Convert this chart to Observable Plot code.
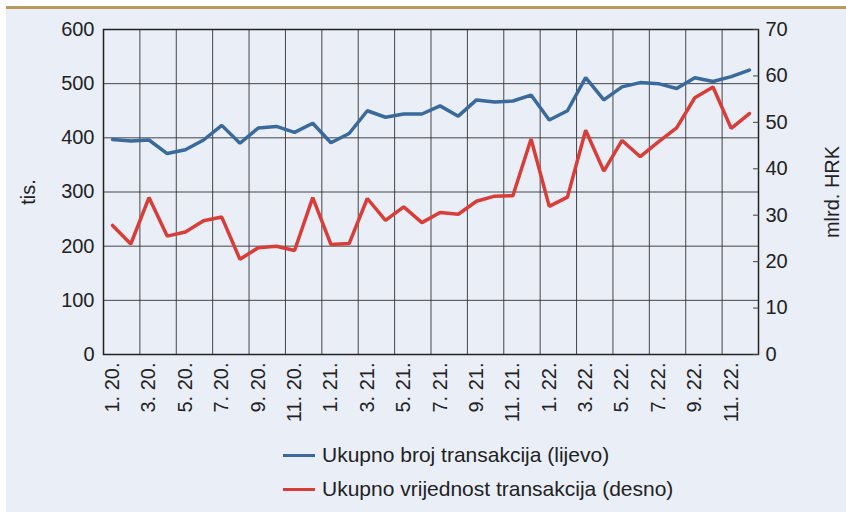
<!DOCTYPE html>
<html><head><meta charset="utf-8">
<script src="https://cdn.jsdelivr.net/npm/d3@7"></script>
<script src="https://cdn.jsdelivr.net/npm/@observablehq/plot@0.6"></script>
<style>
body{margin:0;background:#fff;font-family:"Liberation Sans",Arial,sans-serif;width:846px;height:512px;overflow:hidden;position:relative;}
#bg{position:absolute;left:6px;top:6px;width:840px;height:506px;background:#e9eef7;border-top:3px solid #b89a60;box-sizing:border-box;}
#chart{position:absolute;left:0;top:0;}
#legend{position:absolute;left:283px;top:438px;font-size:21px;color:#222;}
.row{display:flex;align-items:center;height:34px;}
.sw{width:32px;height:3px;margin-right:7px;}
</style></head><body>
<div id="bg"></div><div id="chart"></div>
<div id="legend"></div>
<script>
const months = ["1. 20.","2. 20.","3. 20.","4. 20.","5. 20.","6. 20.","7. 20.","8. 20.","9. 20.","10. 20.","11. 20.","12. 20.",
"1. 21.","2. 21.","3. 21.","4. 21.","5. 21.","6. 21.","7. 21.","8. 21.","9. 21.","10. 21.","11. 21.","12. 21.",
"1. 22.","2. 22.","3. 22.","4. 22.","5. 22.","6. 22.","7. 22.","8. 22.","9. 22.","10. 22.","11. 22.","12. 22."];
const countTis = [397, 394, 396, 371, 378, 396, 423, 390, 418, 421, 410, 427, 391, 408, 450, 438, 444, 444, 459, 440, 470, 466, 468, 479, 433, 450, 511, 470, 494, 502, 500, 491, 511, 504, 513, 525];
const valueMlrd = [27.8, 23.8, 33.8, 25.5, 26.4, 28.8, 29.6, 20.5, 23.0, 23.3, 22.4, 33.8, 23.7, 23.9, 33.6, 28.9, 31.8, 28.4, 30.6, 30.2, 33.0, 34.1, 34.2, 46.4, 31.9, 33.9, 48.3, 39.5, 46.1, 42.6, 45.8, 48.8, 55.3, 57.6, 48.7, 51.9];
const leftTicks = [0, 100, 200, 300, 400, 500, 600];
const rightTicks = [0, 10, 20, 30, 40, 50, 60, 70];
const seriesNames = ["Ukupno broj transakcija (lijevo)", "Ukupno vrijednost transakcija (desno)"];
const seriesColors = ["#3a6a9b", "#d93d38"];
const leftLabel = "tis.";
const rightLabel = "mlrd. HRK";

const k = 600 / 70;
const data = months.map((m, i) => ({i, m, count: countTis[i], value: valueMlrd[i]}));
const xLabelPos = months.map((m, i) => i).filter(i => i % 2 === 0).map(i => i + 0.5);
const gridPos = d3.range(0, months.length + 1, 2);

const chart = Plot.plot({
  width: 846,
  height: 440,
  marginTop: 29,
  marginBottom: 86,
  marginLeft: 103,
  marginRight: 88,
  style: {fontSize: "20px", fontFamily: "'Liberation Sans', Arial, sans-serif", color: "#222", background: "transparent", overflow: "visible"},
  x: {domain: [0, months.length]},
  y: {domain: [0, 600]},
  marks: [
    Plot.gridY(leftTicks, {stroke: "#333", strokeOpacity: 0.9, strokeWidth: 1}),
    Plot.gridX(gridPos, {stroke: "#333", strokeOpacity: 0.9, strokeWidth: 1}),
    Plot.frame({stroke: "#222", strokeWidth: 1.5}),
    Plot.axisY(leftTicks, {anchor: "left", tickSize: 0, tickPadding: 9, label: leftLabel, labelAnchor: "center", labelOffset: 83, labelArrow: "none"}),
    Plot.axisY(rightTicks.map(v => v * k), {anchor: "right", tickSize: 0, tickPadding: 7, tickFormat: d => Math.round(d / k), label: rightLabel, labelAnchor: "center", labelOffset: 80, labelArrow: "none"}),
    Plot.axisY(rightTicks.map(v => v * k), {anchor: "right", tickSize: 6, dx: -6, fill: "none", stroke: "#444", label: null}),
    Plot.axisX(xLabelPos, {anchor: "bottom", tickSize: 0, tickPadding: 8, tickRotate: -90, tickFormat: v => months[Math.floor(v)], label: null}),
    Plot.line(data, {x: d => d.i + 0.5, y: "count", stroke: seriesColors[0], strokeWidth: 3.5, strokeLinejoin: "miter"}),
    Plot.line(data, {x: d => d.i + 0.5, y: d => d.value * k, stroke: seriesColors[1], strokeWidth: 3.5, strokeLinejoin: "miter"})
  ]
});
document.getElementById("chart").append(chart);

const legend = document.getElementById("legend");
seriesNames.forEach((name, j) => {
  const row = document.createElement("div");
  row.className = "row";
  const sw = document.createElement("div");
  sw.className = "sw";
  sw.style.background = seriesColors[j];
  const t = document.createElement("span");
  t.textContent = name;
  row.append(sw, t);
  legend.append(row);
});
</script>
</body></html>
